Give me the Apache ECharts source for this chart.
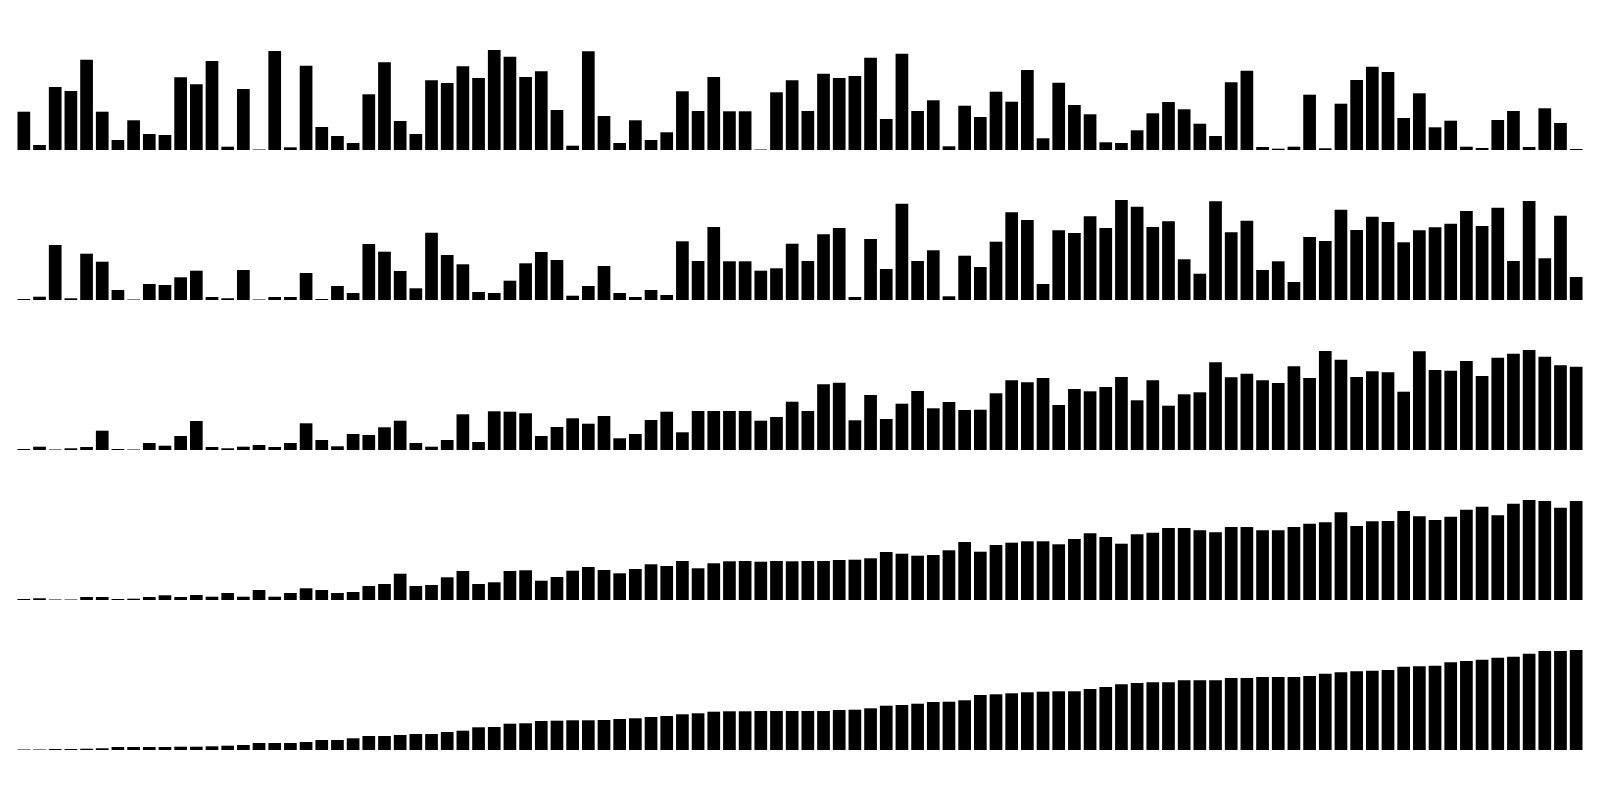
<!DOCTYPE html>
<html>
<head>
<meta charset="utf-8">
<script src="https://cdn.jsdelivr.net/npm/echarts@6/dist/echarts.min.js"></script>
<style>html,body{margin:0;padding:0;background:#fff}#c{width:1600px;height:800px}</style>
</head>
<body>
<div id="c"></div>
<script>
const row1 = [38.3,5,63,59,90.3,38.3,10,29.7,16,15,72.7,65.7,89,3.3,61,0.5,99,2.7,84.3,23,14,7,55.7,87.7,29,16,69.7,67,83.7,72,100,93.3,73,78.7,40,4.3,98.7,34,7,29.7,10,17.7,58.7,39,73,38.7,38.7,0.5,57.7,69.7,
39,76.3,72,74,92.3,31,96.3,39,49.7,3.7,44.3,33,58.3,48.3,80,11.7,67.3,45,35.7,7.7,7,19.7,36.7,48,40.7,26.3,14,67.7,79.3,3,1.3,3.3,55.3,1.7,46.3,70,83.3,78,32,56.7,22.7,29.3,3.3,2,30,39,3,41.7,27,1];
const row2 = [1,3.3,55,1.7,46.3,38.3,10,0.5,16,15,22.7,29.3,3,1.7,30,0.5,3,3,27,1,14,7,56,48.3,29,11.7,67.3,45,35.7,8,7,19.3,36.7,48,40,4.3,14,34,7,3,10,5,58.7,39,73,38.7,38.7,29.3,31.7,56.3,
39,65.7,72,3,61,31,96.3,39,49.7,3.7,44.3,33,58.3,87.7,80,16,69.7,67,83.7,72,100,93.3,73,78.7,40.7,26.3,98.7,67.7,79.3,30,38.7,18,63,59,90.3,70,83.3,78,57.7,69.7,72.7,76.3,89,74,92.3,39,99,41.7,84.3,23];
const row3 = [1,3.3,0.5,1.7,3,19.3,1,0.5,7,4.3,14,29,3,1.7,3.3,5,3,7,26.7,10,3.7,16,15,22.7,29.3,7,3.3,10,35.7,8,38.7,38.3,36.7,14,23,31.7,26.3,34,11.7,16,30,38.3,17.7,39,39,39,39,29.3,33,48.3,
39,65.7,67.3,29.7,55,31,46.3,59,41.7,48,40,40.3,56.7,69.7,67.7,72,45,61,58.7,63,73,49.7,69.7,44.3,55.7,57.7,87.7,72.7,76.3,69.7,67,83.7,72,99,90.3,73,78.7,77.7,58.3,98.7,80,79.3,89,74,92.3,96.3,100,93.3,84.7,83.3];
const row4 = [1,1.7,0.5,0.5,3,3,1,1.3,3,4.7,3,5,3.3,7,3.3,10,3.3,7,11.7,10,7,8,14,16,26.3,14,15,22.7,29,16,17.7,29,29.7,19.3,23,29.3,33,30,26.7,31,35.7,34,39,31.7,36.7,38.7,39,38.3,39,38.7,
39,39,40,40.3,41.7,48,46.3,44.3,45,49.7,58,48.3,55,57.3,58.7,58.7,55.7,61,66.7,63,56.3,65.7,67.3,72,72,69.7,67.7,73,73,69.7,69.7,73,76.3,77.7,87.7,74,78.7,79,89,83.7,80,83.3,90.3,93.3,84.7,96.3,100,99,92.3,99];
const row5 = [0.5,0.5,1,1,1.3,1.7,3,3,3,3,3.3,3.3,3.7,4.3,5,7,7,7,8,10,10,11.7,14,14,15,16,16,18,19.3,22.7,23,26.3,26.7,29,29.3,29.7,29.7,30,31,31.7,33,34,35.7,36.7,38.3,38.7,38.7,39,39,39,
39,39,40,40.3,41.7,44.3,45,46.3,48,48.3,49.7,55,55.7,56.7,57.7,58.3,58.7,58.7,61,63,65.7,67,67.7,67.7,69.7,69.7,69.7,72,72,73,73,73,74,76.3,77.7,78.7,79.3,80,83.3,83.7,84.3,87.7,89,90.3,92.3,93.3,96.3,99,99,100];
const rows = [row1,row2,row3,row4,row5];
const categories = row1.map((_, i) => String(i + 1));

const chart = echarts.init(document.getElementById('c'), null, {renderer: 'canvas'});
const grid = [], xAxis = [], yAxis = [], series = [];
rows.forEach((data, i) => {
  grid.push({left: 16, right: 16, top: i * 150 + 50, height: 100});
  xAxis.push({type: 'category', gridIndex: i, data: categories, show: false});
  yAxis.push({type: 'value', gridIndex: i, min: 0, max: 100, show: false});
  series.push({type: 'bar', xAxisIndex: i, yAxisIndex: i, data: data,
    barCategoryGap: '19%', itemStyle: {color: '#000'}, animation: false});
});
chart.setOption({backgroundColor: '#fff', animation: false, grid, xAxis, yAxis, series});
</script>
</body>
</html>
